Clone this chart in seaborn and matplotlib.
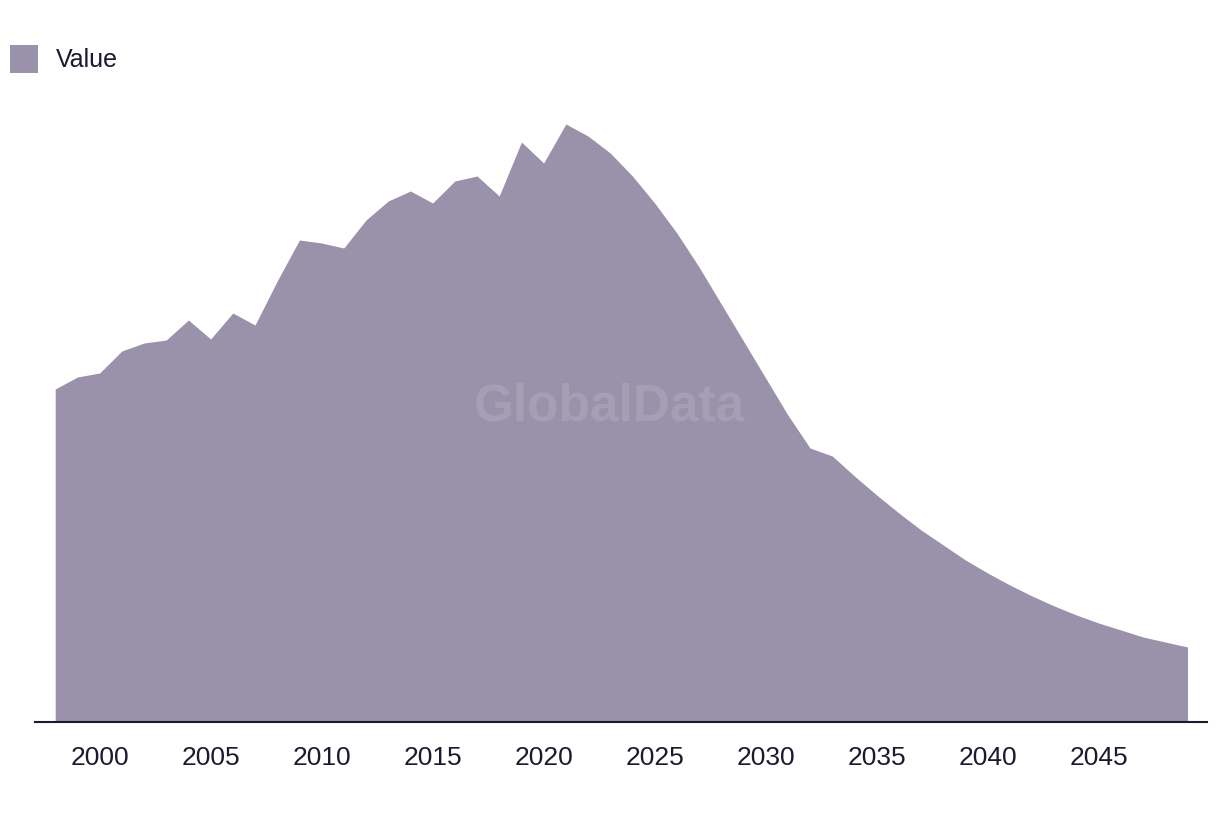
import matplotlib
matplotlib.use("Agg")
import matplotlib.pyplot as plt
from matplotlib.patches import Patch
import seaborn as sns
import pandas as pd

years = list(range(1998, 2050))
values = [333, 345, 349, 371, 379, 382, 402, 383, 409, 397,
          441, 482, 479, 474, 502, 521, 531, 519, 541, 546,
          526, 580, 559, 598, 586, 569, 546, 519, 489, 455,
          418, 381, 344, 307, 274, 266, 246, 227, 209, 192,
          177, 162, 149, 137, 126, 116, 107, 99, 92, 85,
          80, 75]
series_name = "Value"
tick_years = [2000, 2005, 2010, 2015, 2020, 2025, 2030, 2035, 2040, 2045]

fill_color = "#9a91aa"
text_color = "#1b1a2e"

sns.set_theme(style="white")
plt.rcParams["font.family"] = ["Liberation Sans", "DejaVu Sans"]

df = pd.DataFrame({"year": years, "value": values})

fig = plt.figure(figsize=(12.2, 8.14), dpi=100)
ax = fig.add_axes([35 / 1220, (814 - 722) / 814, (1207 - 35) / 1220, (722 - 100) / 814])

sns.lineplot(data=df, x="year", y="value", ax=ax, color=fill_color, linewidth=0)
ax.fill_between(df["year"], 0, df["value"], color=fill_color, linewidth=0)

ax.set_xlim(1997.09, 2049.88)
ax.set_ylim(0, 622)
ax.set_xticks(tick_years)
ax.set_xticklabels([str(t) for t in tick_years], fontsize=19, color=text_color)
ax.set_yticks([])
ax.set_xlabel("")
ax.set_ylabel("")
ax.tick_params(axis="x", length=0, pad=17)
for s in ["top", "right", "left"]:
    ax.spines[s].set_visible(False)
ax.spines["bottom"].set_color(text_color)
ax.spines["bottom"].set_linewidth(1.5)
ax.grid(False)

fig.text(0.5, 0.5, "GlobalData", fontsize=37, fontweight="bold", color="white",
         alpha=0.12, ha="center", va="center")

handle = Patch(facecolor=fill_color, edgecolor="none")
fig.legend([handle], [series_name], loc="upper left",
           bbox_to_anchor=(10 / 1220, 1 - 45 / 814), frameon=False,
           borderaxespad=0, borderpad=0, handlelength=1.12, handleheight=1.35,
           handletextpad=0.7, fontsize=18, labelcolor=text_color)

fig.savefig("out.png", dpi=100)
